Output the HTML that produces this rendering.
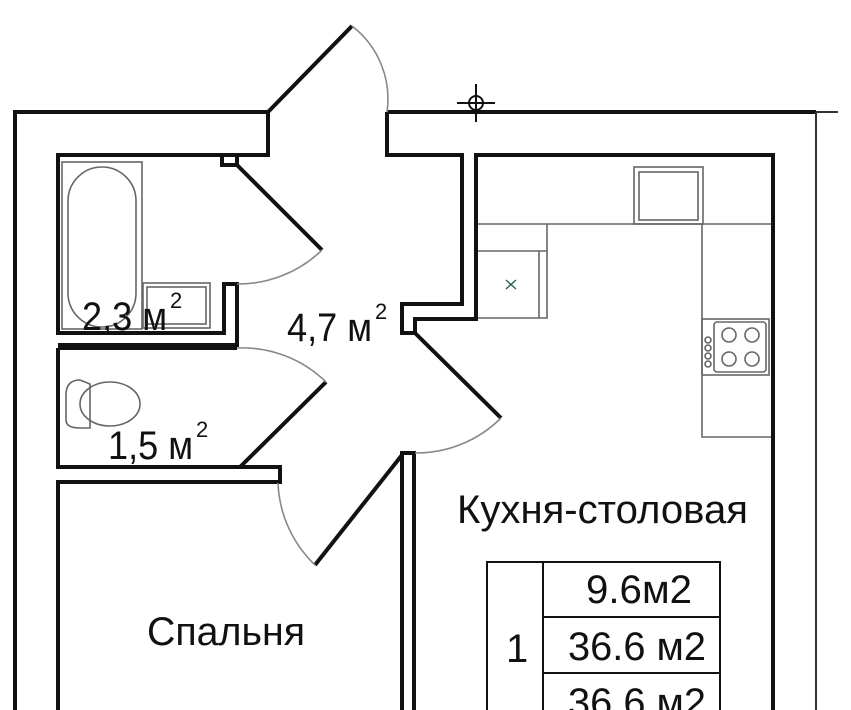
<!DOCTYPE html><html><head><meta charset="utf-8"><style>body{margin:0;background:#fff}svg{display:block}text{font-family:"Liberation Sans",sans-serif;fill:#111}</style></head><body>
<svg width="851" height="710" viewBox="0 0 851 710" xmlns="http://www.w3.org/2000/svg">
<g fill="none" stroke="#111" stroke-width="4" stroke-linejoin="miter">
<path d="M15,710 V112 H268 V155 H58 V333 H224 V284 H237 V345 H58"/>
<path d="M222,155 V165 H237 V155"/>
<path d="M268,112 L352,26"/>
<path d="M237,165 L322,250"/>
<path d="M58,348 H237"/>
<path d="M58,710 V482 H280 V467 H58 V348"/>
<path d="M326,382 L240,467"/>
<path d="M402,455 L315,565"/>
<path d="M387,112 H816 M387,112 V155 H462 V304 H402 V333 H415 V319 H476 V155 H773 V710"/>
<path d="M415,333 L501,418"/>
<path d="M402,710 V453 H414 V710"/>
</g>
<path d="M816,112 V710 M816,112 H838" stroke="#333" stroke-width="2" fill="none"/>
<g fill="none" stroke="#888" stroke-width="1.6">
<path d="M352,26 A92,92 0 0 1 387,112"/>
<path d="M322,250 A120,120 0 0 1 237,284"/>
<path d="M237,348 A120,120 0 0 1 326,382"/>
<path d="M315,565 A120,120 0 0 1 278,483"/>
<path d="M501,418 A120,120 0 0 1 415,453"/>
</g>
<g fill="none" stroke="#666" stroke-width="1.6">
<rect x="62" y="162" width="80" height="167"/>
<rect x="68" y="167" width="68" height="160" rx="34"/>
<rect x="143" y="283" width="67" height="45"/>
<rect x="147" y="287" width="59" height="37"/>
<path d="M80,380 Q66,380 66,395 V420 Q66,428 80,428 H90 V384 Z"/>
<ellipse cx="110" cy="404" rx="30" ry="22"/>
<path d="M478,224 H771 M547,224 V318 H478 M478,251 H547 M539,251 V318"/>
<rect x="634" y="167" width="69" height="57"/><rect x="639" y="172" width="59" height="48"/>
<path d="M702,224 V437 H771"/>
<rect x="702" y="319" width="67" height="56"/><rect x="714" y="322" width="52" height="50" rx="3"/>
<circle cx="729" cy="335" r="7"/><circle cx="752" cy="335" r="7"/><circle cx="729" cy="359" r="7"/><circle cx="752" cy="359" r="7"/>
<circle cx="708" cy="340" r="3"/><circle cx="708" cy="348" r="3"/><circle cx="708" cy="356" r="3"/><circle cx="708" cy="364" r="3"/>
</g>
<path d="M506,280 L516,289 M516,280 L506,289" stroke="#264" stroke-width="1.4"/>
<g stroke="#111" stroke-width="2" fill="none"><circle cx="476" cy="103" r="7"/><path d="M457,103 H495 M476,84 V122"/></g>
<g stroke="#111" stroke-width="2" fill="none"><path d="M487,710 V562 H720 V710 M543,562 V710 M543,617 H720 M543,673 H720"/></g>
<text x="82" y="330" font-size="40" textLength="85" lengthAdjust="spacingAndGlyphs">2,3 м</text><text x="170" y="308" font-size="22">2</text>
<text x="287" y="341" font-size="40" textLength="85" lengthAdjust="spacingAndGlyphs">4,7 м</text><text x="375" y="319" font-size="22">2</text>
<text x="108" y="459" font-size="40" textLength="85" lengthAdjust="spacingAndGlyphs">1,5 м</text><text x="196" y="437" font-size="22">2</text>
<text x="457" y="523" font-size="40" textLength="291" lengthAdjust="spacingAndGlyphs">Кухня-столовая</text>
<text x="147" y="645" font-size="40" textLength="158" lengthAdjust="spacingAndGlyphs">Спальня</text>
<text x="586" y="603" font-size="40" textLength="106" lengthAdjust="spacingAndGlyphs">9.6м2</text>
<text x="568" y="660" font-size="40" textLength="138" lengthAdjust="spacingAndGlyphs">36.6 м2</text>
<text x="568" y="716" font-size="40" textLength="138" lengthAdjust="spacingAndGlyphs">36.6 м2</text>
<text x="506" y="662" font-size="40">1</text>
</svg></body></html>
